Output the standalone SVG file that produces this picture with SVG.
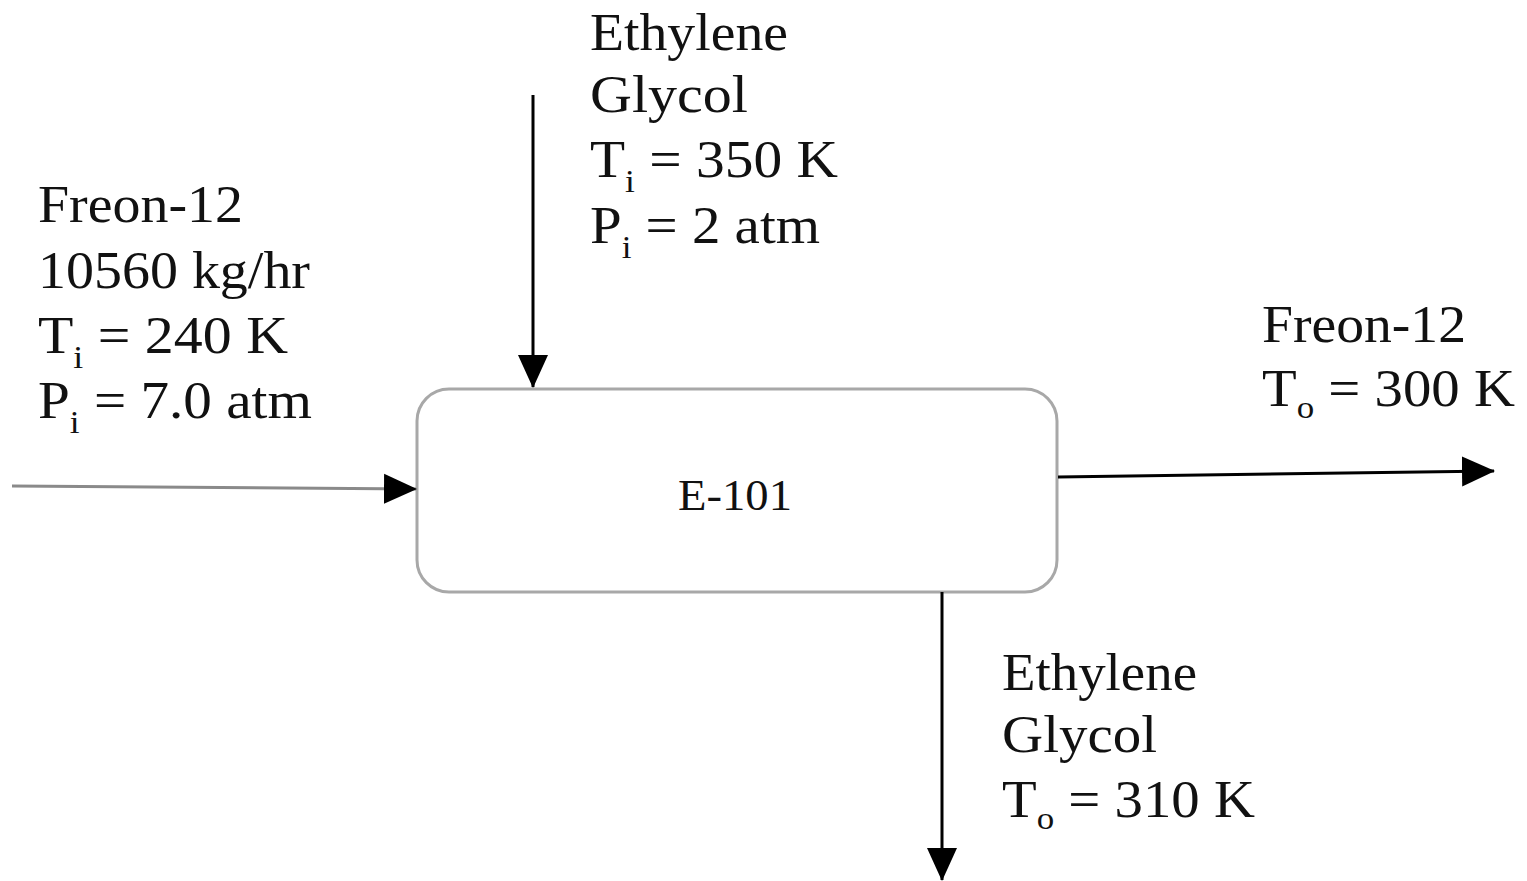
<svg xmlns="http://www.w3.org/2000/svg" width="1527" height="881" viewBox="0 0 1527 881">
<style>
text{font-family:"Liberation Serif","Times New Roman",serif;font-size:52px;fill:#111}
.sub{font-size:32px}
.ln{stroke:#000;stroke-width:3;fill:none}
.gray{stroke:#8a8a8a}
</style>
<defs>
<marker id="ahb" markerWidth="34" markerHeight="34" refX="32" refY="17" orient="auto" markerUnits="userSpaceOnUse" viewBox="0 0 34 34">
<path d="M0,2 L33,17 L0,32 z" fill="#000"/>
</marker>
</defs>
<rect width="1527" height="881" fill="#fff"/>
<g id="E-101">
<rect x="417" y="389" width="640" height="203" rx="32" ry="32" fill="#fff" stroke="#a8a8a8" stroke-width="3"/>
<text x="678" y="510" style="font-size:45px" textLength="114" lengthAdjust="spacingAndGlyphs">E-101</text>
</g>
<g id="connectors">
<line class="ln gray" x1="12" y1="486" x2="416" y2="489" marker-end="url(#ahb)"/>
<line class="ln" x1="533" y1="95" x2="533" y2="387" marker-end="url(#ahb)"/>
<line class="ln" x1="1058" y1="477" x2="1494" y2="471" marker-end="url(#ahb)"/>
<line class="ln" x1="942" y1="592" x2="942" y2="880" marker-end="url(#ahb)"/>
</g>
<g id="freon-in-label">
<text x="38" y="222" textLength="205" lengthAdjust="spacingAndGlyphs">Freon-12</text>
<text x="38" y="288" textLength="272" lengthAdjust="spacingAndGlyphs">10560 kg/hr</text>
<text x="38" y="353" textLength="250" lengthAdjust="spacingAndGlyphs">T<tspan class="sub" dy="15">i</tspan><tspan dy="-15"> = 240 K</tspan></text>
<text x="38" y="418" textLength="274" lengthAdjust="spacingAndGlyphs">P<tspan class="sub" dy="15">i</tspan><tspan dy="-15"> = 7.0 atm</tspan></text>
</g>
<g id="glycol-in-label">
<text x="590" y="50" textLength="198" lengthAdjust="spacingAndGlyphs">Ethylene</text>
<text x="590" y="112" textLength="158" lengthAdjust="spacingAndGlyphs">Glycol</text>
<text x="590" y="177" textLength="248" lengthAdjust="spacingAndGlyphs">T<tspan class="sub" dy="15">i</tspan><tspan dy="-15"> = 350 K</tspan></text>
<text x="590" y="243" textLength="230" lengthAdjust="spacingAndGlyphs">P<tspan class="sub" dy="15">i</tspan><tspan dy="-15"> = 2 atm</tspan></text>
</g>
<g id="freon-out-label">
<text x="1262" y="342" textLength="204" lengthAdjust="spacingAndGlyphs">Freon-12</text>
<text x="1262" y="406" textLength="253" lengthAdjust="spacingAndGlyphs">T<tspan class="sub" dy="12">o</tspan><tspan dy="-12"> = 300 K</tspan></text>
</g>
<g id="glycol-out-label">
<text x="1002" y="690" textLength="195" lengthAdjust="spacingAndGlyphs">Ethylene</text>
<text x="1002" y="752" textLength="155" lengthAdjust="spacingAndGlyphs">Glycol</text>
<text x="1002" y="817" textLength="253" lengthAdjust="spacingAndGlyphs">T<tspan class="sub" dy="12">o</tspan><tspan dy="-12"> = 310 K</tspan></text>
</g>
</svg>
